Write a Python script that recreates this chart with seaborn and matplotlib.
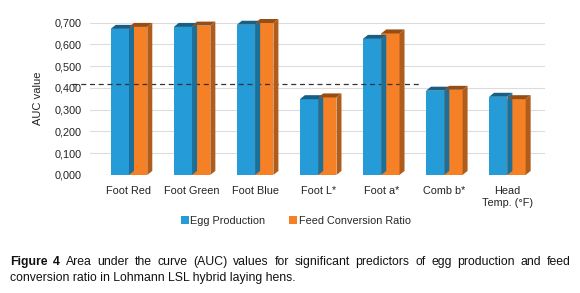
import pandas as pd
import seaborn as sns
import matplotlib.pyplot as plt
import matplotlib.colors as mcolors
from matplotlib.patches import Polygon
from matplotlib.transforms import IdentityTransform
from matplotlib.ticker import FuncFormatter

# Datos
categorias = ['Foot Red', 'Foot Green', 'Foot Blue', 'Foot L*', 'Foot a*', 'Comb b*', 'Head\nTemp. (°F)']
egg_production = [0.671, 0.680, 0.690, 0.348, 0.625, 0.387, 0.359]
feed_conversion = [0.680, 0.686, 0.698, 0.356, 0.650, 0.391, 0.348]
series = ['Egg Production', 'Feed Conversion Ratio']
umbral = 0.42
umbral_desde, umbral_hasta = -0.9, 4.65  # en unidades de categoría

COLORES = {'Egg Production': '#259BD7', 'Feed Conversion Ratio': '#F58025'}

df = pd.DataFrame({
    'categoria': categorias * 2,
    'serie': [series[0]] * len(categorias) + [series[1]] * len(categorias),
    'auc': egg_production + feed_conversion,
})

sns.set_theme(style='white')
plt.rcParams['font.family'] = ['Liberation Sans', 'DejaVu Sans']

fig = plt.figure(figsize=(5.8, 2.93), dpi=100)
ax = fig.add_axes([0.155, 0.403, 0.785, 0.52])

sns.barplot(data=df, x='categoria', y='auc', hue='serie', palette=COLORES,
            width=0.58, saturation=1, linewidth=0, ax=ax, zorder=2)

ax.set_ylim(0, 0.7)
ax.set_xlim(-0.62, 6.6)
ax.set_yticks([i / 10 for i in range(8)])
ax.yaxis.set_major_formatter(FuncFormatter(lambda v, p: f'{v:.3f}'.replace('.', ',')))
ax.grid(axis='y', color='#dcdcdc', lw=0.8, zorder=0)
ax.set_axisbelow(True)
for s in ax.spines.values():
    s.set_visible(False)
ax.tick_params(axis='both', length=0, labelsize=7.8, colors='#222222')
ax.tick_params(axis='x', pad=8)
ax.tick_params(axis='y', pad=6)
ax.set_xlabel('')
ax.set_ylabel('AUC value', fontsize=8, color='#222222', labelpad=8)

# efecto 3D: caras superior y lateral más oscuras
dx, dy = 5, 4
fig.canvas.draw()
for p in list(ax.patches):
    if p.get_height() <= 0:
        continue
    (x0, y0), (x1, y1) = ax.transData.transform([(p.get_x(), 0), (p.get_x() + p.get_width(), p.get_height())])
    oscuro = [c * 0.72 for c in mcolors.to_rgb(p.get_facecolor())]
    arriba = [(x0, y1), (x1, y1), (x1 + dx, y1 + dy), (x0 + dx, y1 + dy)]
    lado = [(x1, y0), (x1, y1), (x1 + dx, y1 + dy), (x1 + dx, y0 + dy)]
    for pts, col in ((arriba, [min(1, c * 0.85) for c in oscuro]), (lado, oscuro)):
        fig.add_artist(Polygon(pts, closed=True, transform=IdentityTransform(),
                               facecolor=col, edgecolor='none', zorder=0.9))
for p in ax.patches:
    p.set_zorder(3)

ax.plot([umbral_desde, umbral_hasta], [umbral, umbral], ls=(0, (4, 3)), color='#333333',
        lw=0.9, clip_on=False, zorder=4)

sns.move_legend(ax, 'center', bbox_to_anchor=(0.51, 0.245), bbox_transform=fig.transFigure,
                ncol=2, frameon=False, title=None, fontsize=7.8, handlelength=0.75,
                handleheight=0.75, handletextpad=0.15, columnspacing=2.2)

# pie de figura (primera línea justificada)
r = fig.canvas.get_renderer()
W = fig.bbox.width
izq, der = 10, 571
y1 = 1 - 262 / 293
palabras = [('Figure', 'bold'), ('4', 'bold')] + [(w, 'normal') for w in
            'Area under the curve (AUC) values for significant predictors of egg production and feed'.split()]
textos = [fig.text(0, y1, w, fontsize=8.8, weight=b, va='center', color='#111111') for w, b in palabras]
anchos = [t.get_window_extent(r).width for t in textos]
hueco = (der - izq - sum(anchos)) / (len(textos) - 1)
x = izq
for t, a in zip(textos, anchos):
    t.set_x(x / W)
    x += a + hueco
fig.text(izq / W, 1 - 278 / 293, 'conversion ratio in Lohmann LSL hybrid laying hens.',
         fontsize=8.8, va='center', color='#111111')

fig.savefig('out.png', dpi=100)
